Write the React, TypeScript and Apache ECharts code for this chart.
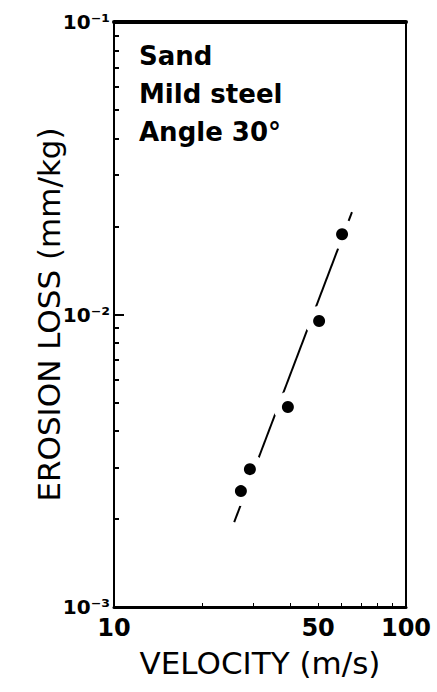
import React, { useEffect, useRef } from "react";
import * as echarts from "echarts";

// ---- data ----
const velocity = [27.2, 29.2, 39.4, 50.4, 60.4]; // m/s
const erosionLoss = [0.00249, 0.00296, 0.00483, 0.0095, 0.0188]; // mm/kg
const fitVelocity = [25.8, 65.3];
const fitLoss = [0.00195, 0.0224];
const xTickLabels = [10, 50, 100];
const xMinorTicks = [20, 30, 40, 50, 60, 70, 80, 90];
const yTickLabels = [0.001, 0.01, 0.1];
const yMajorTicks = [0.01];
const yMinorTicks = [
  0.002, 0.003, 0.004, 0.005, 0.006, 0.007, 0.008, 0.009,
  0.02, 0.03, 0.04, 0.05, 0.06, 0.07, 0.08, 0.09,
];
const annotations = ["Sand", "Mild steel", "Angle 30°"];

const FONT = "DejaVu Sans";
const SUP: Record<string, string> = { "-": "⁻", "0": "⁰", "1": "¹", "2": "²", "3": "³" };
const pow10Label = (v: number) => {
  const e = Math.round(Math.log10(v));
  return "10" + String(e).split("").map((c) => SUP[c] ?? c).join("");
};

export default function App() {
  const ref = useRef<HTMLDivElement>(null);
  useEffect(() => {
    if (!ref.current) return;
    const chart = echarts.init(ref.current, undefined, { renderer: "svg" });
    const points = velocity.map((v, i) => [v, erosionLoss[i]]);
    const fit = fitVelocity.map((v, i) => [v, fitLoss[i]]);
    chart.setOption({
      animation: false,
      backgroundColor: "#fff",
      grid: { left: 114, right: 31, top: 22, bottom: 85 },
      xAxis: [
        {
          type: "log",
          logBase: 10,
          min: 10,
          max: 100,
          position: "bottom",
          name: "VELOCITY (m/s)",
          nameLocation: "middle",
          nameGap: 40,
          nameTextStyle: { fontFamily: FONT, fontSize: 31, color: "#000" },
          axisLine: { onZero: false, lineStyle: { color: "#000", width: 3 } },
          axisTick: {
            inside: true,
            length: 4,
            customValues: xMinorTicks,
            lineStyle: { color: "#000", width: 1 },
          },
          axisLabel: {
            customValues: xTickLabels,
            fontFamily: FONT,
            fontSize: 24,
            fontWeight: "bold",
            color: "#000",
            margin: 9,
            formatter: (v: number) => String(Math.round(v)),
          },
          splitLine: { show: false },
          minorTick: { show: false },
        },
        {
          type: "log",
          logBase: 10,
          min: 10,
          max: 100,
          position: "top",
          axisLine: { onZero: false, lineStyle: { color: "#000", width: 4 } },
          axisTick: { show: false },
          axisLabel: { show: false },
          splitLine: { show: false },
        },
      ],
      yAxis: [
        {
          type: "log",
          logBase: 10,
          min: 0.001,
          max: 0.1,
          position: "left",
          name: "EROSION LOSS (mm/kg)",
          nameLocation: "middle",
          nameGap: 50,
          nameMoveOverlap: false,
          nameRotate: 90,
          nameTextStyle: { fontFamily: FONT, fontSize: 31, color: "#000" },
          axisLine: { onZero: false, lineStyle: { color: "#000", width: 2 } },
          axisTick: {
            inside: true,
            length: 5,
            customValues: yMinorTicks,
            lineStyle: { color: "#000", width: 2 },
          },
          axisLabel: {
            customValues: yTickLabels,
            fontFamily: FONT,
            fontSize: 20,
            fontWeight: "bold",
            color: "#000",
            margin: 4,
            formatter: (v: number) => pow10Label(v),
          },
          splitLine: { show: false },
        },
        {
          type: "log",
          logBase: 10,
          min: 0.001,
          max: 0.1,
          position: "left",
          axisLine: { show: false },
          axisTick: {
            inside: true,
            length: 10,
            customValues: yMajorTicks,
            lineStyle: { color: "#000", width: 2 },
          },
          axisLabel: { show: false },
          splitLine: { show: false },
        },
        {
          type: "log",
          logBase: 10,
          min: 0.001,
          max: 0.1,
          position: "right",
          axisLine: { onZero: false, lineStyle: { color: "#000", width: 2 } },
          axisTick: { show: false },
          axisLabel: { show: false },
          splitLine: { show: false },
        },
      ],
      graphic: annotations.map((t, i) => ({
        type: "text",
        left: 139,
        top: 43 + i * 38,
        style: {
          text: t,
          fontFamily: FONT,
          fontSize: 26,
          fontWeight: "bold",
          fill: "#000",
        },
      })),
      series: [
        {
          type: "line",
          data: fit,
          symbol: "none",
          lineStyle: { color: "#000", width: 2 },
          z: 2,
        },
        {
          type: "scatter",
          data: points,
          symbol: "circle",
          symbolSize: 30,
          itemStyle: { color: "#fff", opacity: 1 },
          z: 3,
          silent: true,
        },
        {
          type: "scatter",
          data: points,
          symbol: "circle",
          symbolSize: 12,
          itemStyle: { color: "#000", opacity: 1 },
          z: 4,
        },
      ],
    });
    return () => chart.dispose();
  }, []);
  return (
    <div
      ref={ref}
      style={{ position: "fixed", left: 0, top: 0, width: 437, height: 692 }}
    />
  );
}
